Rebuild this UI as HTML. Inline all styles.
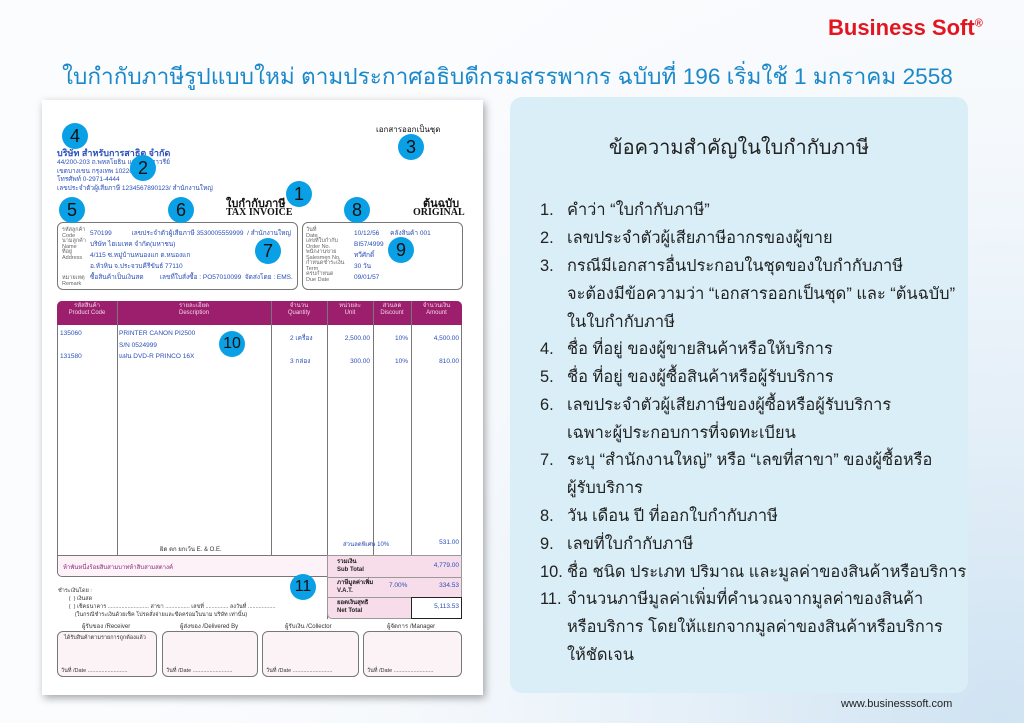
<!DOCTYPE html>
<html><head><meta charset="utf-8">
<style>
*{margin:0;padding:0;box-sizing:border-box}
body{width:1024px;height:723px;overflow:hidden;position:relative;font-family:"Liberation Sans","Noto Sans CJK SC",sans-serif;
background:radial-gradient(circle at 1000px 720px,#cfe3f2 0,#e4eff8 300px,#f6f9fc 600px,#fbfcfe 900px);}
.a{position:absolute;white-space:nowrap}
.c{position:absolute;width:26px;height:26px;border-radius:50%;background:#0aa0e6;color:#111;font-size:18px;text-align:center;line-height:26px}
.b{color:#2a4fb8}
.t{font-size:5.5px;color:#666;line-height:5.5px}
.panel{position:absolute;left:510px;top:97px;width:458px;height:596px;border-radius:12px;background:#d9eef6}
.li{position:absolute;left:540px;font-size:16.4px;color:#222;white-space:nowrap;font-family:"Liberation Sans","Noto Sans CJK SC",sans-serif}
.li span{display:inline-block;width:27px}
.paper{position:absolute;left:42px;top:100px;width:441px;height:595px;background:#fff;box-shadow:2px 3px 8px rgba(0,0,0,.35)}
.box{position:absolute;border:1px solid #777;border-radius:6px}
.vl{position:absolute;width:1px;background:#777}
</style></head><body>
<div class="a" style="left:828px;top:15px;font-size:22px;font-weight:bold;color:#e3161f">Business Soft<sup style="font-size:11px">®</sup></div>
<div class="a" style="left:62px;top:58px;font-size:22.6px;color:#1a88c9">ใบกำกับภาษีรูปแบบใหม่ ตามประกาศอธิบดีกรมสรรพากร ฉบับที่ 196 เริ่มใช้ 1 มกราคม 2558</div>

<div class="paper"></div>
<div class="a b" style="left:57px;top:146px;font-size:9px;font-weight:bold">บริษัท สำหรับการสาธิต จำกัด</div>
<div class="a b" style="left:57px;top:159px;font-size:6.5px;line-height:8.5px">44/200-203 ถ.พหลโยธิน แขวงอนุสาวรีย์<br>เขตบางเขน กรุงเทพ 10220<br>โทรศัพท์ 0-2971-4444<br>เลขประจำตัวผู้เสียภาษี 1234567890123/ สำนักงานใหญ่</div>
<div class="a" style="left:376px;top:123px;font-size:8px;color:#111">เอกสารออกเป็นชุด</div>
<div class="a" style="left:226px;top:194px;font-size:11px;font-weight:bold;color:#111">ใบกำกับภาษี</div>
<div class="a" style="left:226px;top:207px;font-size:10px;font-weight:bold;font-family:'Liberation Serif',serif;color:#111">TAX INVOICE</div>
<div class="a" style="left:423px;top:194px;font-size:11px;font-weight:bold;color:#111">ต้นฉบับ</div>
<div class="a" style="left:413px;top:207px;font-size:10px;font-weight:bold;font-family:'Liberation Serif',serif;color:#111">ORIGINAL</div>

<div class="box" style="left:57px;top:222px;width:241px;height:68px"></div>
<div class="box" style="left:302px;top:222px;width:161px;height:68px"></div>
<div class="a t" style="left:62px;top:228px">รหัสลูกค้า<br>Code<br>นามลูกค้า<br>Name<br>ที่อยู่<br>Address</div>
<div class="a t" style="left:62px;top:276px">หมายเหตุ<br>Remark</div>
<div class="a b" style="left:90px;top:228px;font-size:6.5px;line-height:11px">570199 &nbsp;&nbsp;&nbsp;&nbsp;&nbsp;&nbsp;&nbsp;&nbsp;&nbsp; เลขประจำตัวผู้เสียภาษี 3530005559999 &nbsp;/ สำนักงานใหญ่<br>บริษัท ไฮเมเทค จำกัด(มหาชน)<br>4/115 ซ.หมู่บ้านหนองแก ต.หนองแก<br>อ.หัวหิน จ.ประจวบคีรีขันธ์ 77110<br>ซื้อสินค้าเป็นเงินสด &nbsp;&nbsp;&nbsp;&nbsp;&nbsp;&nbsp;&nbsp; เลขที่ใบสั่งซื้อ : PO57010099 &nbsp;จัดส่งโดย : EMS.</div>
<div class="a t" style="left:306px;top:228px;line-height:5.5px">วันที่<br>Date<br>เลขที่ใบกำกับ<br>Order No.<br>พนักงานขาย<br>Salesmen No.<br>กำหนดชำระเงิน<br>Term<br>ครบกำหนด<br>Due Date</div>
<div class="a b" style="left:354px;top:228px;font-size:6.5px;line-height:11px">10/12/56 &nbsp;&nbsp;&nbsp;&nbsp; คลังสินค้า 001<br>BI57/4999<br>ทวีศักดิ์<br>30 วัน<br>09/01/57</div>

<div class="box" style="left:57px;top:301px;width:405px;height:276px;border-radius:5px"></div>
<div class="a" style="left:57px;top:301px;width:405px;height:24px;background:#9c1f6e;border-radius:5px 5px 0 0"></div>
<div class="vl" style="left:117px;top:301px;height:254px"></div>
<div class="vl" style="left:271px;top:301px;height:254px"></div>
<div class="vl" style="left:327px;top:301px;height:318px"></div>
<div class="vl" style="left:373px;top:301px;height:254px"></div>
<div class="vl" style="left:411px;top:301px;height:318px"></div>
<div class="a" style="left:57px;top:555px;width:405px;height:1px;background:#777"></div>
<div class="a" style="left:327px;top:555px;width:135px;height:64px;background:#f7dce9;border:1px solid #999;border-radius:0 0 5px 5px"></div>
<div class="a" style="left:327px;top:577px;width:135px;height:1px;background:#999"></div>
<div class="a" style="left:327px;top:597px;width:84px;height:1px;background:#999"></div>
<div class="a" style="left:411px;top:597px;width:51px;height:22px;border:1.5px solid #222;background:#fff"></div>
<div class="a" style="left:58px;top:556px;width:269px;height:20px;background:#fcf2f7;border-radius:0 0 0 5px"></div>
<div class="a" style="left:57px;top:303px;width:405px;font-size:6px;color:#f3d3e6;line-height:7px">
<div class="a" style="left:0;width:60px;text-align:center">รหัสสินค้า<br>Product Code</div>
<div class="a" style="left:60px;width:154px;text-align:center">รายละเอียด<br>Description</div>
<div class="a" style="left:214px;width:56px;text-align:center">จำนวน<br>Quantity</div>
<div class="a" style="left:270px;width:46px;text-align:center">หน่วยละ<br>Unit</div>
<div class="a" style="left:316px;width:38px;text-align:center">ส่วนลด<br>Discount</div>
<div class="a" style="left:354px;width:51px;text-align:center">จำนวนเงิน<br>Amount</div></div>
<div class="a b" style="left:60px;top:328px;font-size:6.5px;line-height:11.5px">135060<br><br>131580</div>
<div class="a b" style="left:119px;top:328px;font-size:6.5px;line-height:11.5px">PRINTER CANON PI2500<br>S/N 0524999<br>แผ่น DVD-R PRINCO 16X</div>
<div class="a b" style="left:290px;top:328px;font-size:6.5px;line-height:22.5px">2 เครื่อง<br>3 กล่อง</div>
<div class="a b" style="left:327px;top:328px;width:43px;text-align:right;font-size:6.5px;line-height:22.5px">2,500.00<br>300.00</div>
<div class="a b" style="left:373px;top:328px;width:35px;text-align:right;font-size:6.5px;line-height:22.5px">10%<br>10%</div>
<div class="a b" style="left:411px;top:328px;width:48px;text-align:right;font-size:6.5px;line-height:22.5px">4,500.00<br>810.00</div>
<div class="a" style="left:160px;top:544px;font-size:6px;color:#333">ผิด ตก ยกเว้น E. &amp; O.E.</div>
<div class="a b" style="left:343px;top:539px;font-size:6px">ส่วนลดพิเศษ 10%</div>
<div class="a b" style="left:411px;top:539px;width:48px;text-align:right;font-size:6.5px">531.00</div>
<div class="a" style="left:63px;top:562px;font-size:6px;color:#8b2a80">ห้าพันหนึ่งร้อยสิบสามบาทห้าสิบสามสตางค์</div>
<div class="a" style="left:337px;top:559px;font-size:6px;font-weight:bold;color:#222;line-height:7.5px">รวมเงิน<br>Sub Total</div>
<div class="a" style="left:337px;top:580px;font-size:6px;font-weight:bold;color:#222;line-height:7.5px">ภาษีมูลค่าเพิ่ม<br>V.A.T.</div>
<div class="a b" style="left:389px;top:582px;font-size:6.5px">7.00%</div>
<div class="a" style="left:337px;top:600px;font-size:6px;font-weight:bold;color:#222;line-height:7.5px">ยอดเงินสุทธิ<br>Net Total</div>
<div class="a b" style="left:411px;top:562px;width:48px;text-align:right;font-size:6.5px">4,779.00</div>
<div class="a b" style="left:411px;top:582px;width:48px;text-align:right;font-size:6.5px">334.53</div>
<div class="a b" style="left:411px;top:603px;width:48px;text-align:right;font-size:6.5px">5,113.53</div>
<div class="a" style="left:58px;top:587px;font-size:5.5px;color:#333;line-height:8px">ชำระเงินโดย :<br>&nbsp;&nbsp;&nbsp;&nbsp;&nbsp;&nbsp;&nbsp;( &nbsp;) เงินสด<br>&nbsp;&nbsp;&nbsp;&nbsp;&nbsp;&nbsp;&nbsp;( &nbsp;) เช็คธนาคาร ........................... สาขา ................ เลขที่ ............... ลงวันที่ ..................<br>&nbsp;&nbsp;&nbsp;&nbsp;&nbsp;&nbsp;&nbsp;&nbsp;&nbsp;&nbsp;&nbsp;(ในกรณีชำระเงินด้วยเช็ค โปรดสั่งจ่ายและขีดคร่อมในนาม บริษัท เท่านั้น)</div>
<div class="a" style="left:82px;top:621px;font-size:6px;color:#333">ผู้รับของ /Receiver</div>
<div class="a" style="left:180px;top:621px;font-size:6px;color:#333">ผู้ส่งของ /Delivered By</div>
<div class="a" style="left:285px;top:621px;font-size:6px;color:#333">ผู้รับเงิน /Collector</div>
<div class="a" style="left:387px;top:621px;font-size:6px;color:#333">ผู้จัดการ /Manager</div>
<div class="box" style="left:57px;top:631px;width:100px;height:46px;background:#fcf3f7"></div>
<div class="box" style="left:162px;top:631px;width:96px;height:46px;background:#fcf3f7"></div>
<div class="box" style="left:262px;top:631px;width:97px;height:46px;background:#fcf3f7"></div>
<div class="box" style="left:363px;top:631px;width:99px;height:46px;background:#fcf3f7"></div>
<div class="a" style="left:64px;top:634px;font-size:5.5px;color:#333">ได้รับสินค้าตามรายการถูกต้องแล้ว</div>
<div class="a" style="left:61px;top:667px;font-size:5.5px;color:#333">วันที่ /Date ..........................</div>
<div class="a" style="left:166px;top:667px;font-size:5.5px;color:#333">วันที่ /Date ..........................</div>
<div class="a" style="left:266px;top:667px;font-size:5.5px;color:#333">วันที่ /Date ..........................</div>
<div class="a" style="left:367px;top:667px;font-size:5.5px;color:#333">วันที่ /Date ..........................</div>

<div class="c" style="left:62px;top:123px">4</div>
<div class="c" style="left:398px;top:134px">3</div>
<div class="c" style="left:130px;top:155px">2</div>
<div class="c" style="left:286px;top:181px">1</div>
<div class="c" style="left:59px;top:197px">5</div>
<div class="c" style="left:168px;top:197px">6</div>
<div class="c" style="left:344px;top:197px">8</div>
<div class="c" style="left:255px;top:238px">7</div>
<div class="c" style="left:388px;top:237px">9</div>
<div class="c" style="left:219px;top:331px;font-size:16px">10</div>
<div class="c" style="left:290px;top:574px;font-size:16px">11</div>

<div class="panel"></div>
<div class="a" style="left:510px;top:131px;width:458px;text-align:center;font-size:20px;color:#222">ข้อความสำคัญในใบกำกับภาษี</div>
<div class="li" style="top:197px"><span>1.</span>คำว่า “ใบกำกับภาษี”</div>
<div class="li" style="top:225px"><span>2.</span>เลขประจำตัวผู้เสียภาษีอากรของผู้ขาย</div>
<div class="li" style="top:253px"><span>3.</span>กรณีมีเอกสารอื่นประกอบในชุดของใบกำกับภาษี</div>
<div class="li" style="top:281px"><span></span>จะต้องมีข้อความว่า “เอกสารออกเป็นชุด” และ “ต้นฉบับ”</div>
<div class="li" style="top:309px"><span></span>ในใบกำกับภาษี</div>
<div class="li" style="top:336px"><span>4.</span>ชื่อ ที่อยู่ ของผู้ขายสินค้าหรือให้บริการ</div>
<div class="li" style="top:364px"><span>5.</span>ชื่อ ที่อยู่ ของผู้ซื้อสินค้าหรือผู้รับบริการ</div>
<div class="li" style="top:392px"><span>6.</span>เลขประจำตัวผู้เสียภาษีของผู้ซื้อหรือผู้รับบริการ</div>
<div class="li" style="top:420px"><span></span>เฉพาะผู้ประกอบการที่จดทะเบียน</div>
<div class="li" style="top:447px"><span>7.</span>ระบุ “สำนักงานใหญ่” หรือ “เลขที่สาขา” ของผู้ซื้อหรือ</div>
<div class="li" style="top:475px"><span></span>ผู้รับบริการ</div>
<div class="li" style="top:503px"><span>8.</span>วัน เดือน ปี ที่ออกใบกำกับภาษี</div>
<div class="li" style="top:531px"><span>9.</span>เลขที่ใบกำกับภาษี</div>
<div class="li" style="top:559px"><span>10.</span>ชื่อ ชนิด ประเภท ปริมาณ และมูลค่าของสินค้าหรือบริการ</div>
<div class="li" style="top:586px"><span>11.</span>จำนวนภาษีมูลค่าเพิ่มที่คำนวณจากมูลค่าของสินค้า</div>
<div class="li" style="top:614px"><span></span>หรือบริการ โดยให้แยกจากมูลค่าของสินค้าหรือบริการ</div>
<div class="li" style="top:642px"><span></span>ให้ชัดเจน</div>
<div class="a" style="left:841px;top:698px;font-size:11px;color:#222">www.businesssoft.com</div>
</body></html>
